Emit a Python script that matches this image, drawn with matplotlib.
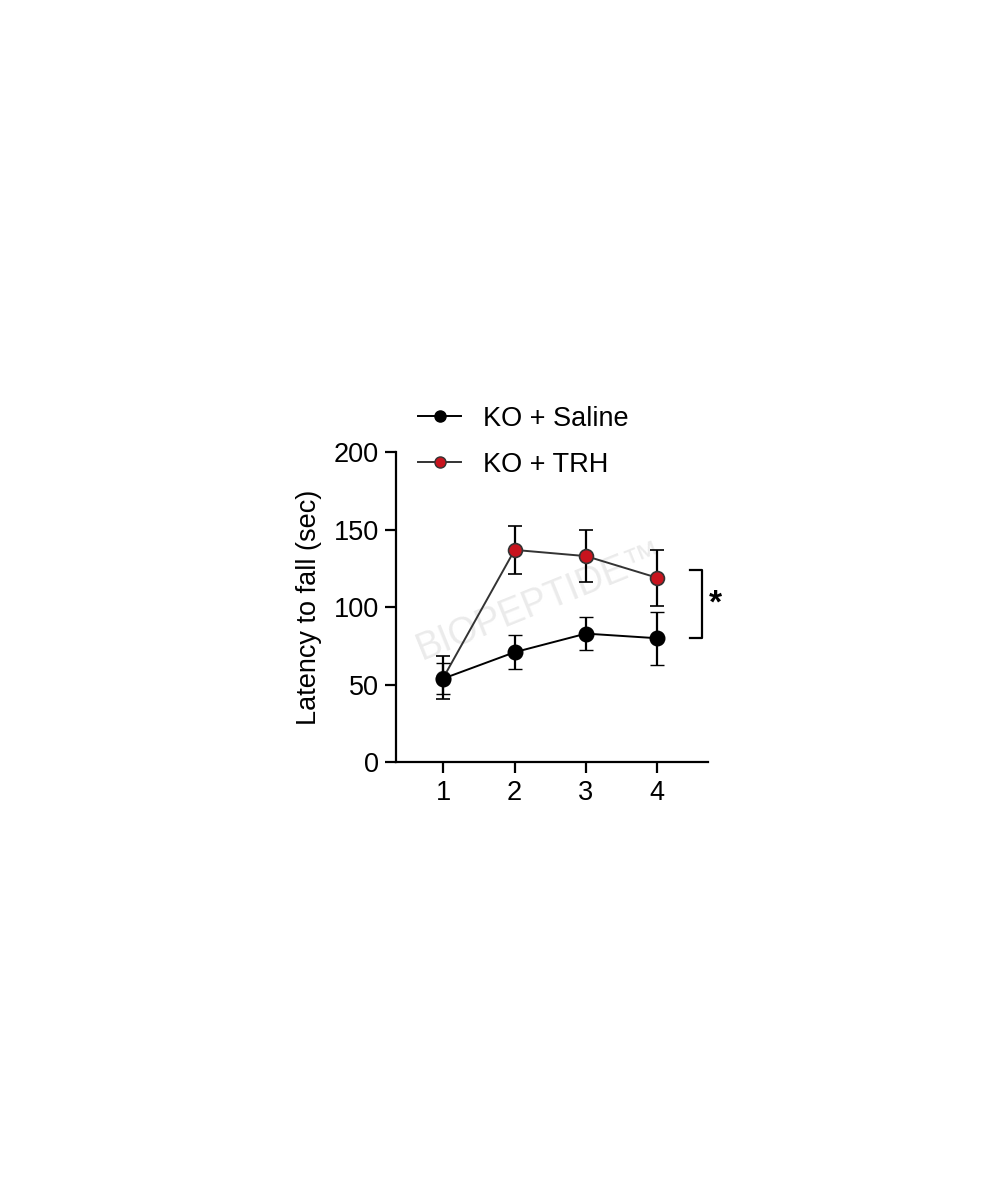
import matplotlib
matplotlib.use('Agg')
import matplotlib.pyplot as plt
from matplotlib.lines import Line2D

plt.rcParams['font.family'] = ['Liberation Sans', 'DejaVu Sans']

# session number
days = [1, 2, 3, 4]

# KO + Saline
saline_mean = [54, 71, 83, 80]
saline_sem = [10, 11, 10.5, 17]

# KO + TRH
trh_mean = [54.5, 137, 133, 119]
trh_sem = [14, 15.5, 17, 18]

y_ticks = [0, 50, 100, 150, 200]
labels = ['KO + Saline', 'KO + TRH']

red = '#c8141e'
fs = 19.5

fig = plt.figure(figsize=(9.93, 12), dpi=100)
ax = fig.add_axes([0.3988, 0.3648, 0.3142, 0.2583])

ax.errorbar(days, trh_mean, yerr=trh_sem, color='#333333', lw=1.4,
            ecolor='black', marker='o', ms=10, mfc=red, mec='#333333', mew=1.2,
            capsize=5, capthick=1.6, elinewidth=1.6, zorder=3)
ax.errorbar(days, saline_mean, yerr=saline_sem, color='black', lw=1.4,
            marker='o', ms=10.5, mfc='black', mec='black', mew=1,
            capsize=5, capthick=1.6, elinewidth=1.6, zorder=4)

ax.set_xlim(0.337, 4.71)
ax.set_ylim(0, 200)
ax.set_xticks(days)
ax.set_yticks(y_ticks)
ax.spines['top'].set_visible(False)
ax.spines['right'].set_visible(False)
for s in ('left', 'bottom'):
    ax.spines[s].set_linewidth(1.6)
ax.tick_params(length=8, width=1.6, labelsize=fs, pad=4.5, colors='black')
ax.set_ylabel('Latency to fall (sec)', fontsize=fs, labelpad=8)

# significance bracket
ax.plot([4.46, 4.62, 4.62, 4.46], [124, 124, 80.4, 80.4], color='black', lw=1.6, clip_on=False)
ax.text(4.81, 102, '*', fontsize=24, ha='center', va='center', fontweight='bold')

# faint watermark
ax.text(2.36, 104, 'BIOPEPTIDE\u2122', fontsize=27, color='#ebebeb', rotation=22,
        ha='center', va='center', zorder=1)

handles = [
    Line2D([], [], color='black', lw=1.4, marker='o', ms=8, mfc='black', mec='black'),
    Line2D([], [], color='#333333', lw=1.4, marker='o', ms=8, mfc=red, mec='#333333'),
]
fig.legend(handles, labels, loc='upper left', bbox_to_anchor=(0.421, 0.662), frameon=False,
           fontsize=fs, handlelength=1.6, handletextpad=0.8, labelspacing=0.75,
           borderpad=0, borderaxespad=0)

fig.savefig('out.png', dpi=100)
